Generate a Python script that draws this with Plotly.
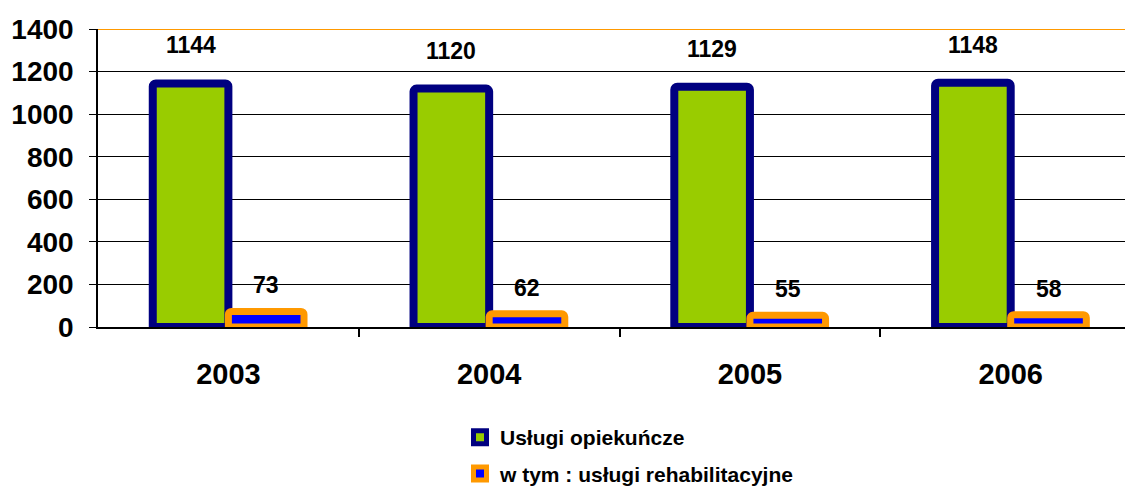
import plotly.graph_objects as go

years = ["2003", "2004", "2005", "2006"]
uslugi_opiekuncze = [1144, 1120, 1129, 1148]
uslugi_rehab = [73, 62, 55, 58]
y_ticks = [0, 200, 400, 600, 800, 1000, 1200, 1400]

xpos = list(range(len(years)))
FONT = "Arial, Liberation Sans, sans-serif"
BAR_W = 0.29  # width of each bar slot in category units

# page body has an 8px default margin, so the figure is sized to fit the window
FIG_W, FIG_H = 1125, 478

fig = go.Figure()
fig.add_trace(go.Bar(
    x=xpos, y=uslugi_opiekuncze, name="Usługi opiekuńcze",
    marker=dict(color="#99CC00", line=dict(color="#000080", width=8)),
    showlegend=False,
))
fig.add_trace(go.Bar(
    x=xpos, y=uslugi_rehab, name="w tym : usługi rehabilitacyjne",
    marker=dict(color="#0000FF", line=dict(color="#FF9900", width=7)),
    showlegend=False,
))
# legend entries (square keys as in the original)
fig.add_trace(go.Scatter(
    x=[None], y=[None], mode="markers", name="Usługi opiekuńcze",
    marker=dict(symbol="square", size=13, color="#99CC00", line=dict(color="#000080", width=5)),
    legendgroup="a",
))
fig.add_trace(go.Scatter(
    x=[None], y=[None], mode="markers", name="w tym : usługi rehabilitacyjne",
    marker=dict(symbol="square", size=13, color="#0000FF", line=dict(color="#FF9900", width=5)),
    legendgroup="b",
))

lab_font = dict(family=FONT, size=23, color="black", weight="bold")
ann = []
for i, v in enumerate(uslugi_opiekuncze):
    ann.append(dict(x=i - BAR_W / 2, y=v, text=str(v), showarrow=False, yshift=38,
                    yanchor="middle", font=lab_font))
for i, v in enumerate(uslugi_rehab):
    ann.append(dict(x=i + BAR_W / 2, y=v, text=str(v), showarrow=False, yshift=26,
                    yanchor="middle", font=lab_font))

fig.update_layout(
    width=FIG_W, height=FIG_H,
    margin=dict(l=90, r=0, t=21, b=159, autoexpand=False),
    paper_bgcolor="white", plot_bgcolor="white",
    barmode="group", bargap=1 - 2 * BAR_W, bargroupgap=0,
    barcornerradius=3,
    font=dict(family=FONT, color="black"),
    annotations=ann,
    showlegend=True,
    legend=dict(xref="container", yref="container", x=452 / FIG_W, xanchor="left",
                y=1 - 409 / FIG_H, yanchor="top",
                font=dict(family=FONT, size=21, color="black", weight="bold"),
                traceorder="grouped", tracegroupgap=6, itemwidth=30,
                bgcolor="rgba(0,0,0,0)"),
    shapes=[dict(type="line", xref="paper", yref="y", x0=0, x1=1, y0=1400, y1=1400,
                 line=dict(color="#FF9900", width=2), layer="above")],
)
fig.update_xaxes(
    range=[-0.5, 3.469], tickvals=xpos, ticktext=years, ticks="",
    tickfont=dict(family=FONT, size=29, color="black", weight="bold"),
    ticklabelstandoff=20, automargin=False,
    showline=True, linecolor="black", linewidth=1.5,
    showgrid=False, zeroline=False,
    minor=dict(tickvals=[0.5, 1.5, 2.5], ticks="outside", ticklen=8, tickcolor="black", tickwidth=1.5),
)
fig.update_yaxes(
    range=[0, 1400], tickvals=y_ticks, ticks="outside", ticklen=7, tickcolor="black",
    tickfont=dict(family=FONT, size=28, color="black", weight="bold"),
    ticklabelstandoff=10, automargin=False,
    showline=True, linecolor="black", linewidth=1.5,
    showgrid=True, gridcolor="black", gridwidth=1.2, zeroline=False,
)

fig.write_html("out.html")
